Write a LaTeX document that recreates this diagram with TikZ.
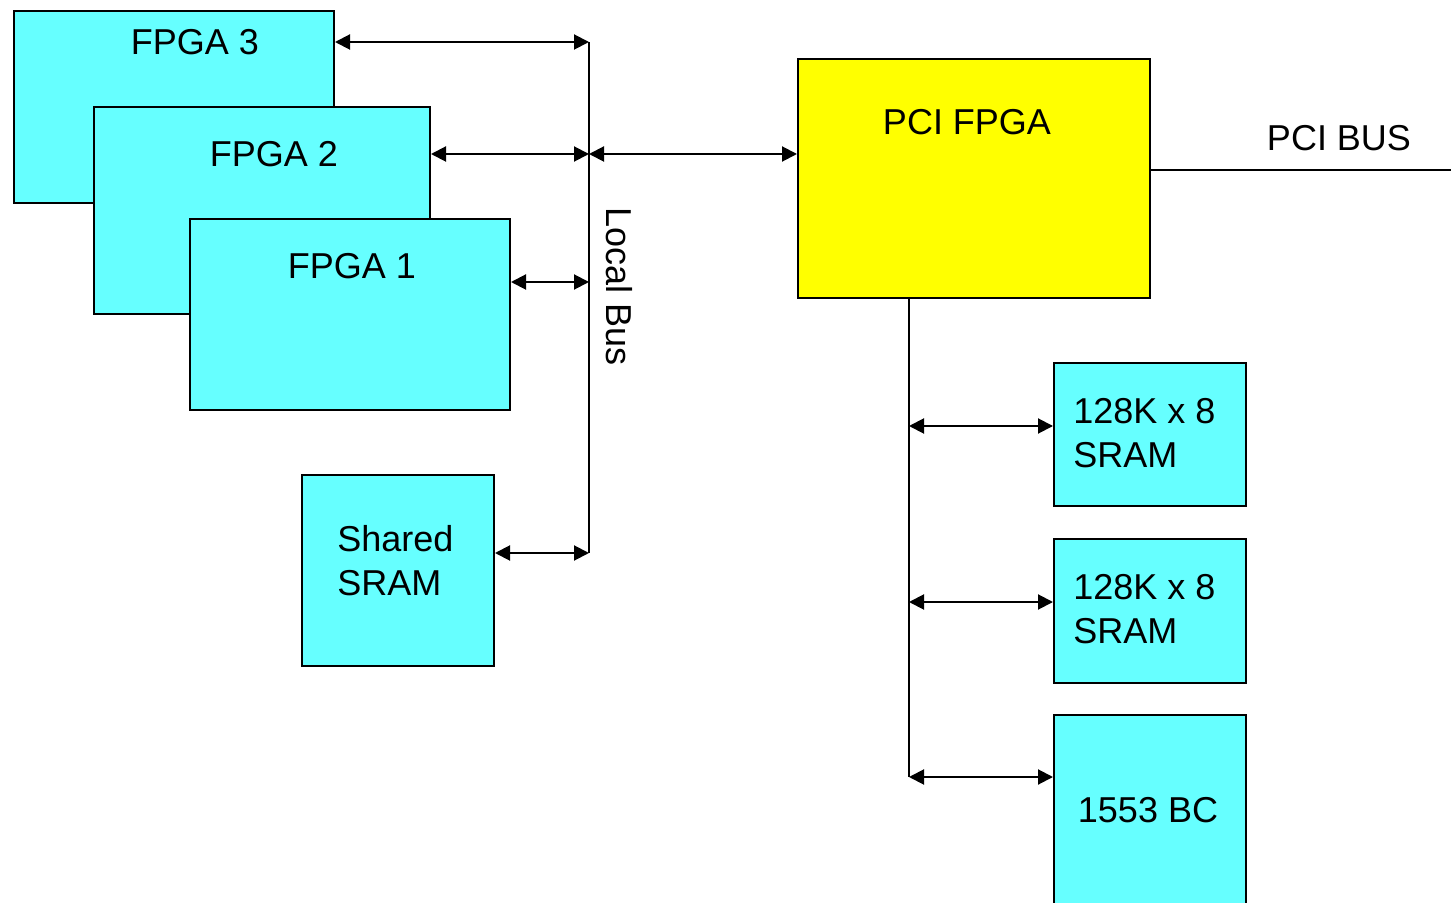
\documentclass[tikz,border=0pt]{standalone}
\usepackage{fontspec}
\setmainfont{Liberation Sans}
\usetikzlibrary{arrows.meta,calc}
\definecolor{BoxClr}{rgb}{0.4,1,1}
\definecolor{PciClr}{rgb}{1,1,0}

\begin{document}
\begin{tikzpicture}[x=0.5pt,y=-0.5pt,
  blk/.style={draw,line width=1pt,fill=BoxClr,rectangle,inner sep=0pt,anchor=north west},
  txt/.style={font=\fontsize{18}{22}\selectfont,inner sep=0pt},
  biarrow/.style={line width=1pt,{Triangle[length=7.5pt,width=7.5pt]}-{Triangle[length=7.5pt,width=7.5pt]}},
  wire/.style={line width=1pt}]
\useasboundingbox (0,0) rectangle (1451,903);

% FPGA stack
\node[blk,minimum width=160pt,minimum height=96pt] (fpga3) at (13,10) {};
\node[blk,minimum width=168pt,minimum height=103.5pt] (fpga2) at (93,106) {};
\node[blk,minimum width=160pt,minimum height=95.5pt] (fpga1) at (189,218) {};
\node[txt] (t3) at (195,42) {FPGA 3};
\node[txt] (t2) at (274,154) {FPGA 2};
\node[txt] (t1) at (352,266) {FPGA 1};

\node[blk,minimum width=96pt,minimum height=95.5pt] (shared) at (301,474) {};
\node[txt,align=left,anchor=west] (tshared) at (337,561) {Shared\\SRAM};

% PCI side
\node[blk,fill=PciClr,minimum width=176pt,minimum height=119.5pt] (pci) at (797,58) {};
\node[txt] (tpci) at (967,122) {PCI FPGA};

\node[blk,minimum width=96pt,minimum height=71.5pt] (sram1) at (1053,362) {};
\node[blk,minimum width=96pt,minimum height=72pt] (sram2) at (1053,538) {};
\node[blk,minimum width=96pt,minimum height=99pt] (bc) at (1053,714) {};
\node[txt,align=left,anchor=west] (ts1) at (1073,433) {128K x 8\\SRAM};
\node[txt,align=left,anchor=west] (ts2) at (1073,609) {128K x 8\\SRAM};
\node[txt] (tbc) at (1148,810) {1553 BC};

% local bus
\coordinate (b3) at (589,42);
\coordinate (b2) at (589,154);
\coordinate (b1) at (589,282);
\coordinate (bs) at (589,553);
\draw[wire] (b3) -- (bs);
\node[txt,rotate=-90] (tbus) at (619,287) {Local Bus};

\draw[biarrow] (fpga3.east |- b3) -- (b3);
\draw[biarrow] (fpga2.east |- b2) -- (b2);
\draw[biarrow] (fpga1.east |- b1) -- (b1);
\draw[biarrow] (shared.east |- bs) -- (bs);
\draw[biarrow] (b2) -- (pci.west |- b2);

% memory bus
\coordinate (m0) at (909,297);
\coordinate (m1) at (909,426);
\coordinate (m2) at (909,602);
\coordinate (m3) at (909,777);
\draw[wire] (m0) -- (m3);
\draw[biarrow] (m1) -- (sram1.west |- m1);
\draw[biarrow] (m2) -- (sram2.west |- m2);
\draw[biarrow] (m3) -- (bc.west |- m3);

% PCI bus
\coordinate (pcib) at (1451,170);
\draw[wire] (pci.east |- pcib) -- (pcib);
\node[txt] (tpcib) at (1339,138) {PCI BUS};

\end{tikzpicture}
\end{document}
